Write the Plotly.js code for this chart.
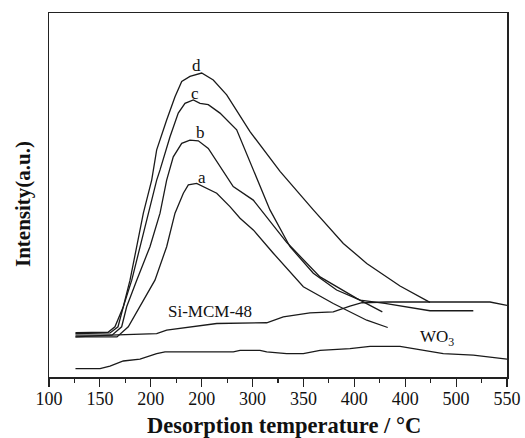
<!DOCTYPE html>
<html>
<head>
<meta charset="utf-8">
<script src="https://cdn.plot.ly/plotly-3.0.1.min.js"></script>
<style>html,body{margin:0;padding:0;background:#fff;}#chart{width:525px;height:438px;}</style>
</head>
<body>
<div id="chart"></div>
<script>
// Desorption temperature (°C) and intensity (a.u.)
const aX = [126, 166.8, 177.9, 189.4, 204.1, 215.6, 223.8, 232, 236.9, 245.1, 254.9, 264.8, 277.8, 287.7, 300.7, 320.4, 349.9, 379.3, 412.2, 432.8];
const aY = [11.0, 11.0, 13.8, 19.3, 26.6, 35.8, 45.0, 50.5, 52.8, 53.2, 51.8, 50.5, 46.8, 43.6, 40.4, 34.0, 24.8, 20.2, 15.6, 13.6];

const bX = [126, 161.9, 171.4, 176.3, 186.2, 199.2, 209.1, 215.6, 222.1, 230.4, 238.5, 246.7, 256.5, 268, 281, 300.7, 333.5, 366.3, 402.3, 427.5];
const bY = [11.5, 11.5, 13.8, 19.3, 26.6, 35.8, 45.0, 54.1, 60.5, 64.2, 65.1, 64.9, 62.8, 57.7, 52.3, 48.6, 37.0, 27.5, 21.6, 17.9];

const cX = [126, 155, 160, 167.8, 173, 181.3, 189.4, 197.6, 205.8, 209.1, 218.9, 227, 233.6, 241.8, 248.4, 256.5, 268, 284.4, 300.7, 317.1, 336.8, 359.7, 382.6, 405.6, 430, 474.3, 516.9];
const cY = [11.9, 11.9, 12.1, 13.8, 19.3, 26.6, 35.8, 45.0, 54.1, 56.9, 66.0, 72.5, 75.2, 76.1, 75.2, 74.8, 72.5, 67.9, 56.9, 45.9, 35.8, 28.5, 23.9, 21.1, 20.2, 18.2, 18.2];

const dX = [126, 153, 158, 164.8, 173, 179.6, 186.2, 192.7, 200.9, 205.8, 215.6, 223.8, 230.4, 238.5, 250, 261.4, 274.6, 297.5, 327, 359.7, 389.2, 412.2, 444.9, 474.3];
const dY = [12.2, 12.2, 12.3, 13.8, 19.3, 26.6, 35.8, 45.0, 54.1, 62.4, 70.6, 77.0, 81.2, 82.6, 83.5, 81.6, 77.5, 67.4, 56.5, 45.9, 36.7, 31.2, 25.0, 20.5];

const siX = [126, 160, 205.8, 215.6, 264.8, 313.9, 330.2, 356.4, 379.3, 395.7, 407.5, 432.1, 533.3, 550];
const siY = [11.0, 11.5, 11.9, 12.9, 14.7, 14.9, 16.5, 17.6, 17.9, 19.5, 20.4, 20.6, 20.6, 19.7];

const wX = [126, 150.1, 159.9, 173, 189.4, 205.8, 214, 281.1, 287.7, 307.3, 313.9, 333.5, 349.9, 366.3, 395.7, 415.4, 444.9, 467.8, 487.4, 516.9, 550];
const wY = [2.3, 2.3, 3.0, 4.4, 4.9, 6.4, 6.9, 6.9, 7.3, 7.3, 6.9, 6.4, 6.4, 7.3, 7.8, 8.4, 8.4, 7.3, 6.4, 6.0, 4.9];

const tickVals = [100, 150, 200, 250, 300, 350, 400, 450, 500, 550];
const tickText = ['100', '150', '200', '200', '300', '350', '400', '400', '500', '550'];

const labels = [
  {x: 245, y: 85.6, text: 'd'},
  {x: 243.5, y: 77.8, text: 'c'},
  {x: 248.4, y: 67.2, text: 'b'},
  {x: 250, y: 54.8, text: 'a'},
  {x: 258.2, y: 17.9, text: 'Si-MCM-48'},
  {x: 481, y: 10.8, text: 'WO<sub>3</sub>'}
];

const lineStyle = {color: '#1a1a1a', width: 1.3};
const series = [[aX, aY], [bX, bY], [cX, cY], [dX, dY], [siX, siY], [wX, wY]];
const traces = series.map(s => ({x: s[0], y: s[1], type: 'scatter', mode: 'lines', line: lineStyle, hoverinfo: 'skip'}));

const font = {family: '"Liberation Serif", "Times New Roman", serif', color: '#111'};

const annotations = labels.map(l => ({
  x: l.x, y: l.y, xref: 'x', yref: 'y', text: l.text, showarrow: false,
  font: Object.assign({}, font, {size: 17}), xanchor: 'center', yanchor: 'middle'
}));
annotations.push({
  xref: 'paper', yref: 'paper', x: 0.5135, y: -0.133, text: '<b>Desorption temperature / °C</b>',
  showarrow: false, xanchor: 'center', yanchor: 'middle', font: Object.assign({}, font, {size: 22.5})
});
annotations.push({
  xref: 'paper', yref: 'paper', x: -0.057, y: 0.475, text: '<b>Intensity(a.u.)</b>', textangle: -90,
  showarrow: false, xanchor: 'center', yanchor: 'middle', font: Object.assign({}, font, {size: 21})
});

const layout = {
  width: 525, height: 438,
  margin: {l: 49, r: 18, t: 13, b: 61},
  paper_bgcolor: '#fff', plot_bgcolor: '#fff',
  showlegend: false,
  font: font,
  xaxis: {
    range: [100, 550], tickvals: tickVals, ticktext: tickText,
    ticks: 'outside', ticklen: 8, tickwidth: 1.2, tickcolor: '#222',
    ticklabelstandoff: -3,
    minor: {dtick: 25, tick0: 100, ticks: 'outside', ticklen: 4, tickwidth: 1.2, tickcolor: '#222', showgrid: false},
    showline: true, linecolor: '#222', linewidth: 1.5, mirror: true,
    showgrid: false, zeroline: false,
    tickfont: Object.assign({}, font, {size: 18})
  },
  yaxis: {
    range: [0, 100], showticklabels: false, ticks: '',
    showline: true, linecolor: '#222', linewidth: 1.5, mirror: true,
    showgrid: false, zeroline: false
  },
  annotations: annotations
};

Plotly.newPlot('chart', traces, layout, {staticPlot: true, displayModeBar: false});
</script>
</body>
</html>
